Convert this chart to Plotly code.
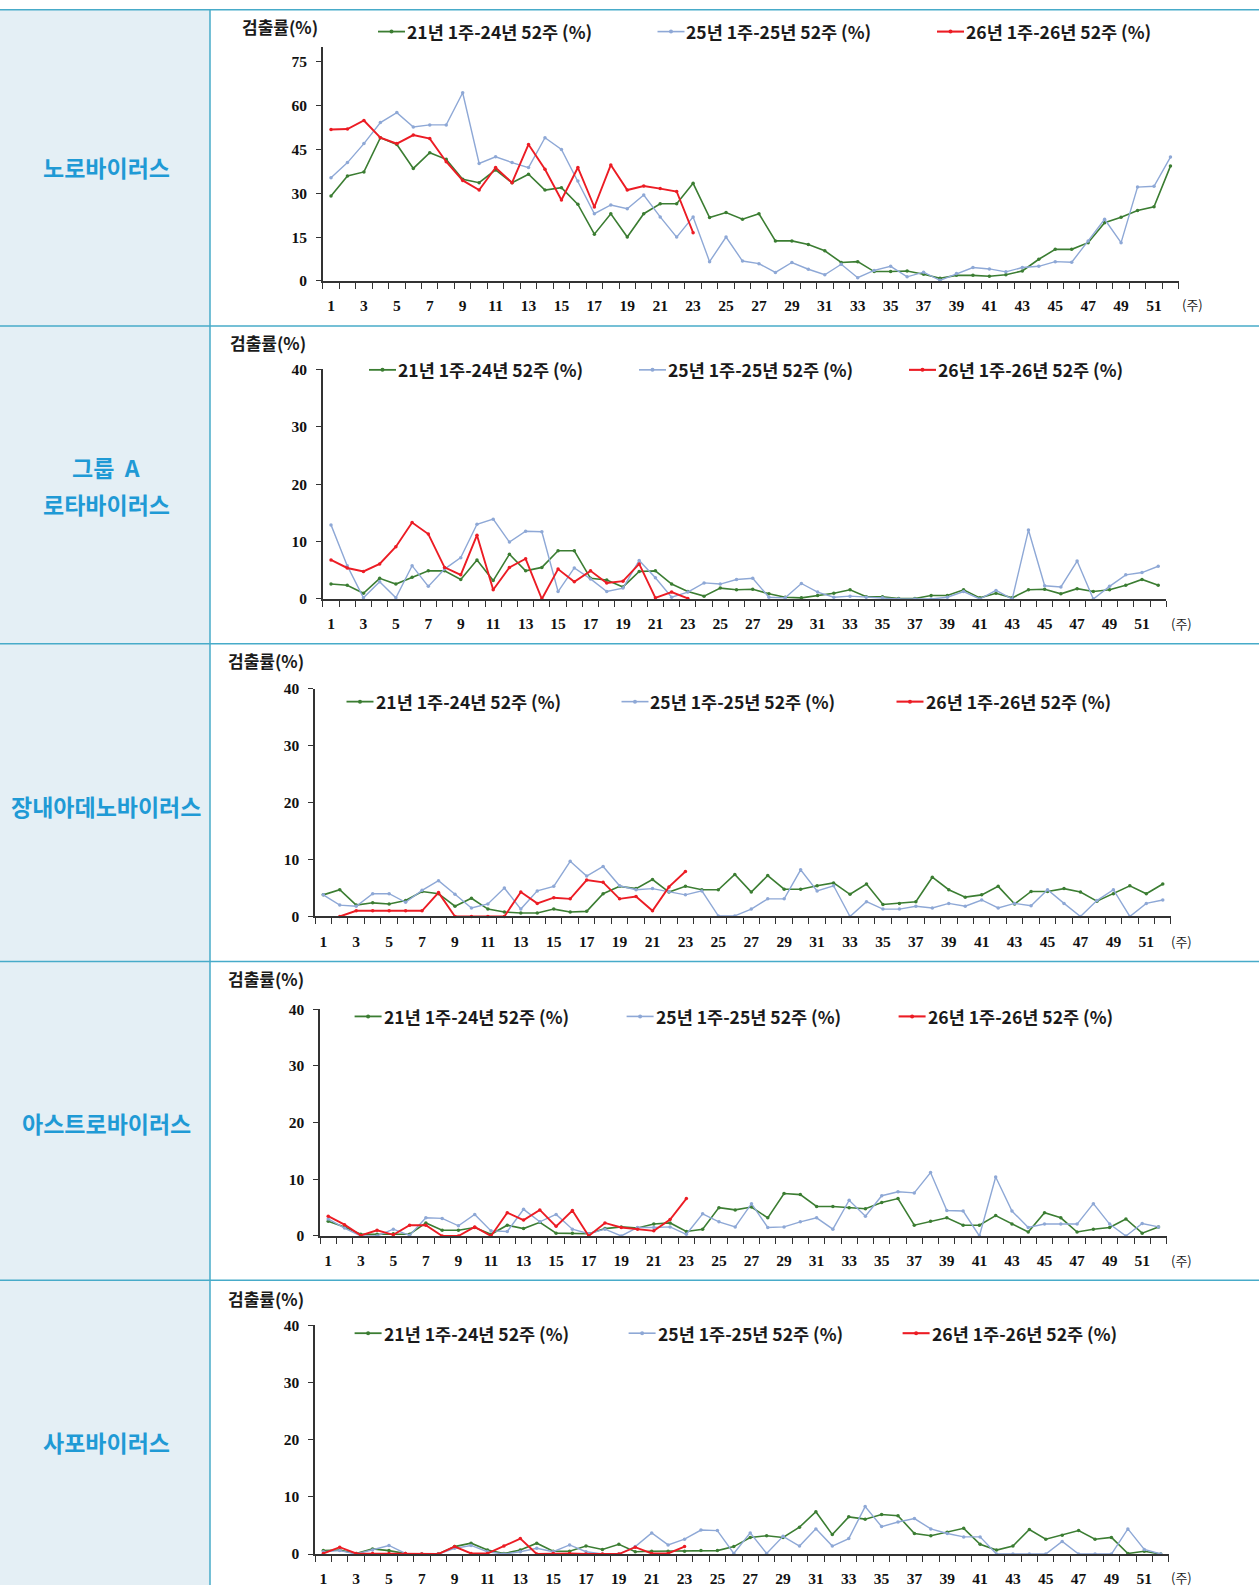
import plotly.graph_objects as go

W, H = 1259, 1593

weeks = list(range(1, 53))
week_labels = [str(w) for w in range(1, 52, 2)]
week_ticks = list(range(1, 52, 2))

series_names = ["21년 1주-24년 52주 (%)", "25년 1주-25년 52주 (%)", "26년 1주-26년 52주 (%)"]
virus_names = [["노로바이러스"], ["그룹  A", "로타바이러스"], ["장내아데노바이러스"], ["아스트로바이러스"], ["사포바이러스"]]

# 노로바이러스
noro_2124 = [29.1, 35.9, 37.3, 49.0, 46.7, 38.5, 43.9, 41.6, 34.8, 33.6, 38.0, 33.6, 36.5, 31.1, 31.9, 26.2,
             16.0, 23.0, 15.0, 23.0, 26.4, 26.4, 33.4, 21.7, 23.4, 21.1, 23.0, 13.7, 13.7, 12.5, 10.3, 6.3,
             6.6, 3.2, 3.2, 3.4, 2.3, 0.9, 1.9, 1.9, 1.6, 2.1, 3.4, 7.4, 10.8, 10.8, 13.1, 19.9, 21.8, 24.1,
             25.4, 39.3]
noro_25 = [35.3, 40.5, 47.0, 54.2, 57.6, 52.7, 53.4, 53.4, 64.4, 40.2, 42.5, 40.5, 38.8, 49.0, 45.0, 34.2,
           23.0, 26.0, 24.7, 29.4, 21.9, 15.0, 21.9, 6.6, 15.0, 6.8, 5.9, 2.9, 6.3, 4.0, 2.1, 5.7, 1.1, 3.6,
           5.0, 1.4, 3.0, 0.2, 2.5, 4.6, 4.1, 3.1, 4.6, 5.0, 6.6, 6.4, 13.7, 21.1, 13.1, 32.1, 32.4, 42.4]
noro_26 = [51.8, 52.0, 54.9, 49.0, 47.0, 49.9, 48.7, 40.8, 34.4, 31.1, 38.8, 33.6, 46.7, 38.2, 27.7, 38.8,
           25.3, 39.7, 31.1, 32.5, 31.6, 30.6, 16.5]

# 그룹 A 로타바이러스
rota_2124 = [2.6, 2.4, 1.0, 3.6, 2.6, 3.8, 4.9, 4.9, 3.4, 6.8, 3.2, 7.8, 4.9, 5.5, 8.4, 8.4, 3.6, 3.3, 2.1,
             4.8, 4.9, 2.6, 1.3, 0.5, 1.9, 1.6, 1.7, 0.9, 0.3, 0.2, 0.6, 1.0, 1.6, 0.4, 0.4, 0.1, 0.1, 0.6,
             0.6, 1.6, 0.2, 1.0, 0.2, 1.6, 1.7, 0.9, 1.8, 1.3, 1.6, 2.4, 3.4, 2.4]
rota_25 = [12.9, 5.8, 0.2, 3.0, 0.2, 5.8, 2.2, 5.2, 7.2, 13.0, 13.9, 9.9, 11.8, 11.7, 1.3, 5.4, 3.5, 1.3,
           1.9, 6.7, 3.7, 0.3, 1.2, 2.8, 2.6, 3.4, 3.6, 0.3, 0.2, 2.7, 1.2, 0.3, 0.5, 0.3, 0.2, 0.0, 0.0,
           0.0, 0.3, 1.3, 0.0, 1.5, 0.0, 12.0, 2.3, 2.1, 6.6, 0.0, 2.2, 4.2, 4.6, 5.7]
rota_26 = [6.8, 5.4, 4.8, 6.1, 9.1, 13.3, 11.3, 5.5, 4.2, 11.1, 1.6, 5.5, 7.0, 0.0, 5.2, 3.0, 4.9, 2.8,
           3.1, 6.1, 0.2, 1.2, 0.1]

# 장내아데노바이러스
adeno_2124 = [3.8, 4.7, 2.0, 2.4, 2.2, 2.8, 4.4, 4.0, 1.8, 3.2, 1.3, 0.8, 0.6, 0.6, 1.3, 0.8, 0.9, 4.0,
              5.3, 4.9, 6.5, 4.3, 5.3, 4.7, 4.7, 7.4, 4.3, 7.2, 4.8, 4.8, 5.4, 5.9, 3.9, 5.7, 2.1, 2.3,
              2.6, 6.9, 4.7, 3.4, 3.8, 5.3, 2.2, 4.4, 4.4, 4.9, 4.3, 2.7, 4.0, 5.4, 4.0, 5.7]
adeno_25 = [3.8, 2.0, 1.8, 4.0, 4.0, 2.5, 4.6, 6.3, 3.9, 1.5, 2.2, 5.0, 1.3, 4.5, 5.3, 9.7, 7.1, 8.8, 5.4,
            4.7, 4.9, 4.4, 3.8, 4.5, 0.1, 0.1, 1.3, 3.1, 3.1, 8.2, 4.5, 5.4, 0.0, 2.6, 1.3, 1.3, 1.8, 1.5,
            2.3, 1.8, 2.9, 1.5, 2.3, 1.9, 4.7, 2.3, 0.0, 2.8, 4.7, 0.0, 2.3, 2.9]
adeno_26 = [None, 0.0, 1.0, 1.0, 1.0, 1.0, 1.0, 4.2, 0.0, 0.0, 0.0, 0.0, 4.3, 2.3, 3.3, 3.1, 6.4, 6.0, 3.1,
            3.5, 1.0, 5.2, 7.9]

# 아스트로바이러스
astro_2124 = [2.6, 1.6, 0.3, 0.3, 0.4, 0.3, 2.3, 1.0, 1.0, 1.5, 0.3, 1.9, 1.3, 2.4, 0.5, 0.5, 0.4, 1.3,
              1.6, 1.4, 2.1, 2.3, 0.8, 1.2, 5.0, 4.6, 5.1, 3.2, 7.5, 7.3, 5.2, 5.2, 5.0, 4.8, 5.9, 6.6,
              1.9, 2.6, 3.2, 1.9, 1.9, 3.6, 2.1, 0.7, 4.1, 3.2, 0.7, 1.2, 1.5, 3.0, 0.5, 1.6]
astro_25 = [3.0, 1.4, 0.0, 0.0, 1.2, 0.1, 3.2, 3.1, 1.8, 3.8, 0.9, 0.8, 4.7, 2.5, 3.8, 1.2, 0.4, 1.2, 0.0,
            1.5, 1.5, 1.6, 0.3, 3.9, 2.5, 1.6, 5.7, 1.5, 1.6, 2.5, 3.2, 1.2, 6.3, 3.5, 7.1, 7.8, 7.6, 11.2,
            4.5, 4.4, 0.0, 10.4, 4.4, 1.5, 2.1, 2.1, 2.1, 5.7, 2.1, 0.0, 2.2, 1.6]
astro_26 = [3.5, 2.0, 0.1, 1.0, 0.2, 1.9, 1.9, 0.0, 0.0, 1.6, 0.0, 4.1, 2.8, 4.6, 1.7, 4.5, 0.0, 2.3, 1.5,
            1.2, 0.9, 2.9, 6.6]

# 사포바이러스
sapo_2124 = [0.6, 0.7, 0.1, 0.9, 0.6, 0.1, 0.0, 0.0, 1.3, 1.9, 0.7, 0.1, 0.7, 1.9, 0.5, 0.5, 1.4, 0.8, 1.7,
             0.4, 0.5, 0.5, 0.5, 0.6, 0.6, 1.3, 2.9, 3.2, 2.9, 4.7, 7.4, 3.4, 6.5, 6.1, 6.9, 6.7, 3.6, 3.2,
             3.8, 4.5, 1.7, 0.7, 1.4, 4.3, 2.6, 3.3, 4.1, 2.6, 2.9, 0.1, 0.5, 0.0]
sapo_25 = [0.4, 0.6, 0.0, 0.7, 1.5, 0.1, 0.0, 0.0, 1.0, 1.5, 0.4, 0.0, 0.4, 1.0, 0.4, 1.6, 0.4, 0.0, 0.0,
           1.3, 3.7, 1.6, 2.6, 4.2, 4.1, 0.1, 3.7, 0.1, 3.1, 1.4, 4.4, 1.4, 2.7, 8.3, 4.8, 5.6, 6.2, 4.4,
           3.6, 3.0, 3.0, 0.0, 0.0, 0.0, 0.0, 2.2, 0.0, 0.0, 0.0, 4.4, 0.8, 0.0]
sapo_26 = [0.1, 1.2, 0.1, 0.1, 0.1, 0.1, 0.0, 0.0, 1.3, 0.1, 0.1, 1.4, 2.7, 0.0, 0.1, 0.1, 0.0, 0.0, 0.0,
           1.2, 0.1, 0.1, 1.3]

panel_series = [
    (noro_2124, noro_25, noro_26),
    (rota_2124, rota_25, rota_26),
    (adeno_2124, adeno_25, adeno_26),
    (astro_2124, astro_25, astro_26),
    (sapo_2124, sapo_25, sapo_26),
]
y_ticks = [[0, 15, 30, 45, 60, 75], [0, 10, 20, 30, 40], [0, 10, 20, 30, 40],
           [0, 10, 20, 30, 40], [0, 10, 20, 30, 40]]
y_max = [80, 40, 40, 40, 40]

# ---- styling / geometry (pixels) ----
colors = ["#3b7d32", "#8ea8d6", "#ec1c24"]
widths = [1.6, 1.4, 1.9]
line_c = "#47abc9"
cell_bg = "#e4eff5"
label_c = "#1f9ad5"
axis_c = "#333333"
num_font = "Liberation Serif"
kor_font = "Noto Sans CJK KR"

row_edges = [6, 325, 643, 961, 1280, 1593]
divider_x = 210
# per panel: x of week 1, week spacing, y of value 0, y of axis top
panel_geom = [
    (331.0, 16.46, 280.0, 46.1),
    (331.0, 16.22, 598.3, 368.3),
    (323.3, 16.46, 916.0, 688.3),
    (328.2, 16.28, 1235.7, 1008.9),
    (323.3, 16.42, 1554.0, 1325.0),
]
# legend: x of first item, y, step between items
legend_geom = [(378, 30.5, 279.5), (369, 369, 270), (346.5, 701, 275), (354.6, 1016, 272), (354.6, 1333, 274)]
ytitle_pos = [(280, 25.5), (268, 342), (266, 660), (266, 978.5), (266, 1298.5)]
unit_pos = [(1192, 304), (1181, 623), (1181, 941), (1181, 1260), (1181, 1577)]
label_y = [[166], [466, 503], [805], [1123], [1442]]

# vertical placement factor of the page frame
V_OFF, V_SCALE = 7.9, 0.99


def px(x):
    return x / W


def py(y):
    yy = (y - V_OFF) / V_SCALE
    yy = min(max(yy, 0.8), H)
    return 1 - yy / H


fig = go.Figure()
layout = dict(
    width=W, height=H, margin=dict(l=0, r=0, t=0, b=0),
    paper_bgcolor="white", plot_bgcolor="rgba(0,0,0,0)", showlegend=False,
)
shapes, annotations = [], []

# table cells and rules
for i in range(5):
    shapes.append(dict(type="rect", xref="paper", yref="paper", x0=0, x1=px(divider_x),
                       y0=py(row_edges[i + 1]), y1=py(row_edges[i]), fillcolor=cell_bg,
                       line=dict(width=0), layer="below"))
for y in row_edges[:-1]:
    shapes.append(dict(type="line", xref="paper", yref="paper", x0=0, x1=1, y0=py(y), y1=py(y),
                       line=dict(color=line_c, width=1.5)))
shapes.append(dict(type="line", xref="paper", yref="paper", x0=px(divider_x), x1=px(divider_x),
                   y0=py(row_edges[0]), y1=0, line=dict(color=line_c, width=1.5)))

for i in range(5):
    k = "" if i == 0 else str(i + 1)
    w1, sp, y0, ytop = panel_geom[i]
    x0 = w1 - 0.5 * sp
    x1 = w1 + 51.5 * sp
    layout["xaxis" + k] = dict(
        domain=[px(x0), px(x1)], range=[0.5, 52.5], anchor="y" + k,
        showline=True, linecolor=axis_c, linewidth=1.5, showgrid=False, zeroline=False,
        tickmode="array", tickvals=week_ticks, ticktext=week_labels, ticks="",
        ticklabelstandoff=10,
        tickfont=dict(family=num_font, size=15.5, color="#111", weight="bold"),
        minor=dict(tick0=0.5, dtick=1, ticks="outside", ticklen=6, tickcolor=axis_c, tickwidth=1.3),
        fixedrange=True,
    )
    layout["yaxis" + k] = dict(
        domain=[py(y0), py(ytop)], range=[0, y_max[i]], anchor="x" + k,
        showline=True, linecolor=axis_c, linewidth=1.5, showgrid=False, zeroline=False,
        tickmode="array", tickvals=y_ticks[i], ticks="outside", ticklen=5, tickcolor=axis_c,
        tickwidth=1.3, ticklabelstandoff=6,
        tickfont=dict(family=num_font, size=15.5, color="#111", weight="bold"),
        fixedrange=True,
    )
    for j, vals in enumerate(panel_series[i]):
        fig.add_trace(go.Scatter(
            x=weeks[:len(vals)], y=vals, mode="lines+markers", name=series_names[j],
            xaxis="x" + k, yaxis="y" + k, cliponaxis=False, connectgaps=False,
            line=dict(color=colors[j], width=widths[j]),
            marker=dict(color=colors[j], size=3.5),
        ))

    # legend rows
    lx, ly, step = legend_geom[i]
    for j in range(3):
        sx = lx + j * step
        shapes.append(dict(type="line", xref="paper", yref="paper", x0=px(sx), x1=px(sx + 27),
                           y0=py(ly), y1=py(ly), line=dict(color=colors[j], width=widths[j] + 0.2)))
        shapes.append(dict(type="circle", xref="paper", yref="paper", x0=px(sx + 11.5), x1=px(sx + 15.5),
                           y0=py(ly + 2), y1=py(ly - 2), fillcolor=colors[j], line=dict(width=0)))
        annotations.append(dict(text=series_names[j], xref="paper", yref="paper", x=px(sx + 27), y=py(ly),
                                xanchor="left", yanchor="middle", showarrow=False,
                                font=dict(family=kor_font, size=17.5, color="#1a1a1a", weight="bold")))
    tx, ty = ytitle_pos[i]
    annotations.append(dict(text="검출률(%)", xref="paper", yref="paper", x=px(tx), y=py(ty),
                            xanchor="center", yanchor="middle", showarrow=False,
                            font=dict(family=kor_font, size=17, color="#1a1a1a", weight="bold")))
    ux, uy = unit_pos[i]
    annotations.append(dict(text="(주)", xref="paper", yref="paper", x=px(ux), y=py(uy),
                            xanchor="center", yanchor="middle", showarrow=False,
                            font=dict(family=kor_font, size=13, color="#1a1a1a")))
    for line_text, ly_px in zip(virus_names[i], label_y[i]):
        annotations.append(dict(text=line_text, xref="paper", yref="paper", x=px(106), y=py(ly_px),
                                xanchor="center", yanchor="middle", showarrow=False,
                                font=dict(family="Noto Sans CJK KR", size=23, color=label_c, weight="bold")))

layout["shapes"] = shapes
layout["annotations"] = annotations
fig.update_layout(**layout)
# page body without default margin so the figure fills the window exactly
fig.write_html("out.html", post_script="document.body.style.margin='0';")
